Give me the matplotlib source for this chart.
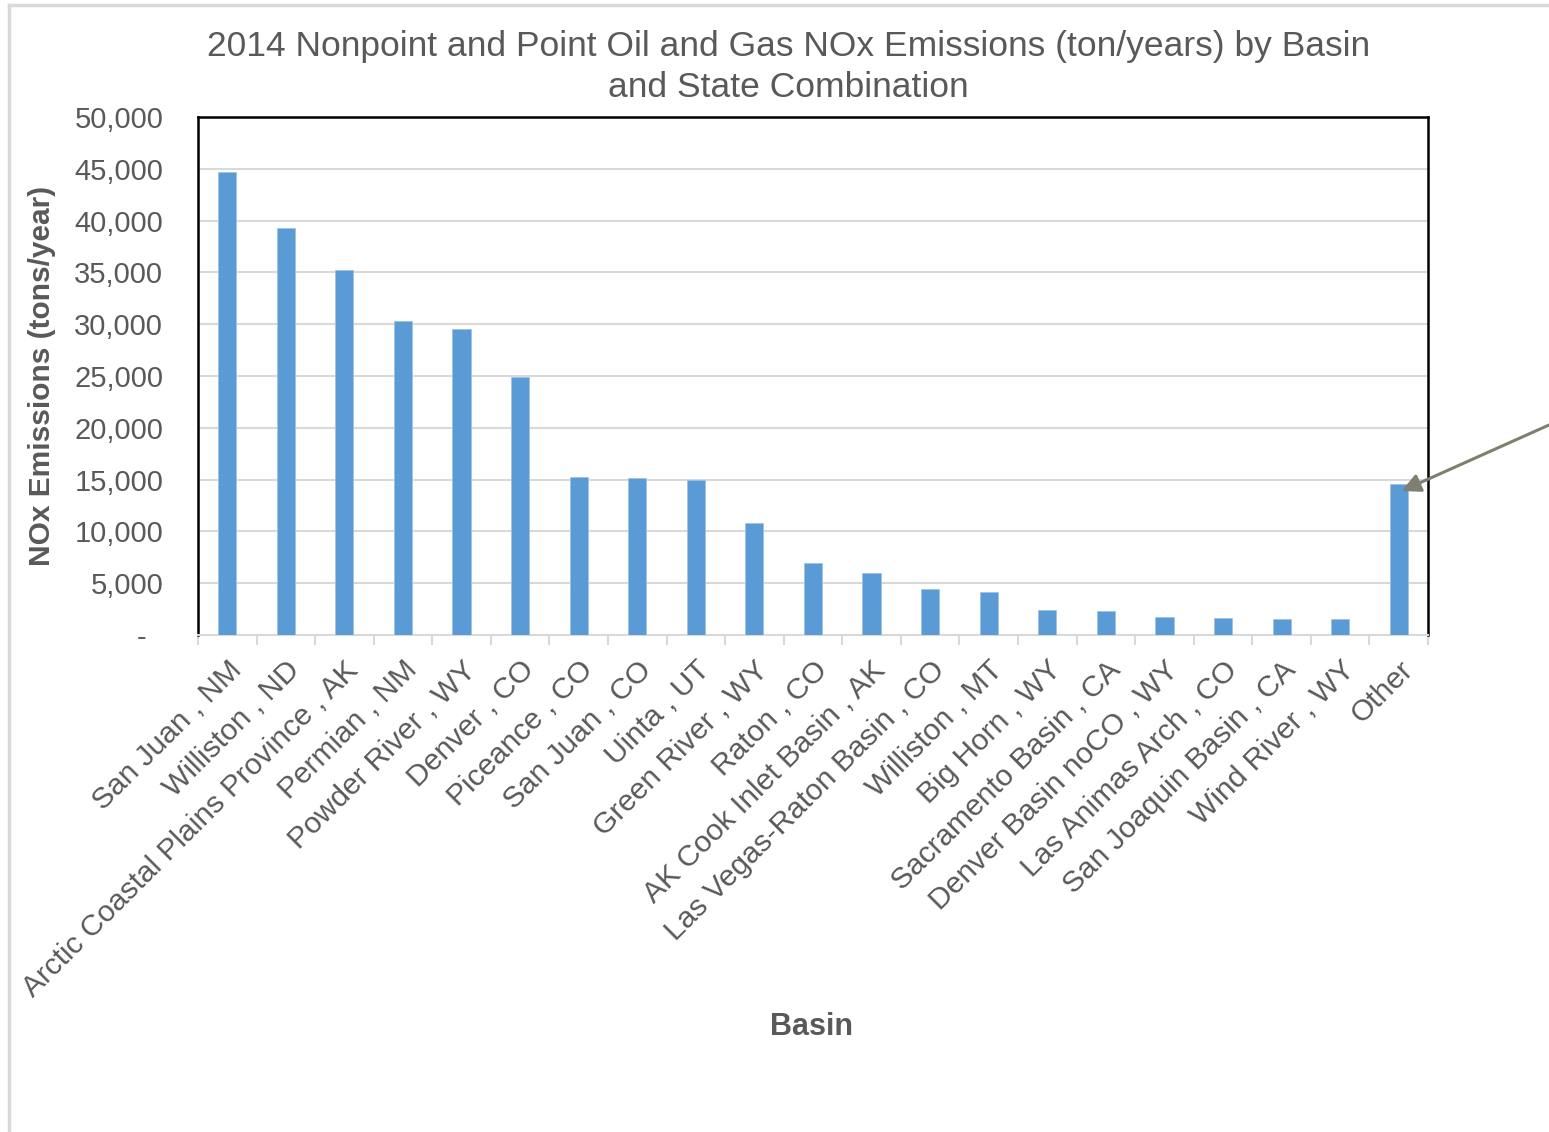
import matplotlib.pyplot as plt
from matplotlib.ticker import FuncFormatter
from matplotlib.lines import Line2D

plt.rcParams['font.family'] = ['Liberation Sans', 'DejaVu Sans']

# basin , state combinations (as labelled on the chart)
basins = [
    "San Juan , NM", "Williston , ND", "Arctic Coastal Plains Province , AK",
    "Permian , NM", "Powder River , WY", "Denver , CO", "Piceance , CO",
    "San Juan , CO", "Uinta , UT", "Green River , WY", "Raton , CO",
    "AK Cook Inlet Basin , AK", "Las Vegas-Raton Basin , CO", "Williston , MT",
    "Big Horn , WY", "Sacramento Basin , CA", "Denver Basin noCO , WY",
    "Las Animas Arch , CO", "San Joaquin Basin , CA", "Wind River , WY", "Other",
]
# NOx emissions, tons/year
nox = [
    44700, 39300, 35200, 30300, 29500, 24900, 15250,
    15150, 14950, 10800, 6950, 6000, 4450, 4150,
    2400, 2300, 1750, 1650, 1550, 1550, 14600,
]
yticks = list(range(0, 50001, 5000))

TEXT = "#595959"
GRID = "#D9D9D9"
BAR = "#5B9BD5"

fig = plt.figure(figsize=(15.49, 11.32), dpi=100)
ax = fig.add_axes([0.1278, 0.4391, 0.7941, 0.4575])

x = list(range(len(basins)))
ax.bar(x, nox, width=0.31, color=BAR, edgecolor="#9DC3E6", linewidth=0.6, zorder=3)

ax.set_xlim(-0.5, len(basins) - 0.5)
ax.set_ylim(0, 50000)
ax.set_yticks(yticks)
# Excel accounting style: zero shown as a dash
ax.yaxis.set_major_formatter(FuncFormatter(lambda v, p: "-  " if v == 0 else f"{int(v):,}"))
ax.grid(axis="y", color=GRID, linewidth=1.5, zorder=0)
ax.set_axisbelow(True)

# category boundaries carry the small tick marks
ax.set_xticks([i - 0.5 for i in range(len(basins) + 1)], minor=False)
ax.set_xticklabels([])
ax.set_xticks(x, minor=True)
ax.set_xticklabels(basins, minor=True, rotation=45, ha="right",
                   rotation_mode="anchor", fontsize=21.5, color=TEXT)
ax.tick_params(axis="x", which="major", length=7, width=1.5, color=GRID)
ax.tick_params(axis="x", which="minor", length=0, pad=15)
ax.tick_params(axis="y", length=0, labelsize=21, labelcolor=TEXT, pad=25)

for side in ("top", "left", "right"):
    ax.spines[side].set_color("black")
    ax.spines[side].set_linewidth(1.8)
ax.spines["bottom"].set_color(GRID)
ax.spines["bottom"].set_linewidth(1.5)

ax.set_ylabel("NOx Emissions (tons/year)", fontsize=21.5, fontweight="bold", color=TEXT)
ax.yaxis.set_label_coords(-0.1155, 0.5)
fig.text(0.524, 0.093, "Basin", fontsize=22, fontweight="bold", color=TEXT,
         ha="center", va="center")

fig.text(0.509, 0.9408, "2014 Nonpoint and Point Oil and Gas NOx Emissions (ton/years) by Basin\n"
         "and State Combination", fontsize=25.5, color=TEXT, ha="center", va="center",
         linespacing=1.3)

# arrow pointing at "Other"
ax.annotate("", xy=(len(basins) - 1 + 0.05, nox[-1] - 700), xycoords="data",
            xytext=(1.0, 1 - 425 / 1132), textcoords="figure fraction",
            arrowprops=dict(arrowstyle="-|>", color="#7F7F6F", lw=2.2,
                            mutation_scale=28, shrinkA=0, shrinkB=0),
            annotation_clip=False)

# light frame of the original screenshot
fig.add_artist(Line2D([9 / 1549, 1], [1 - 5 / 1132] * 2, color=GRID, lw=2.5))
fig.add_artist(Line2D([9 / 1549] * 2, [0, 1 - 5 / 1132], color=GRID, lw=2.5))

fig.savefig("out.png", dpi=100)
